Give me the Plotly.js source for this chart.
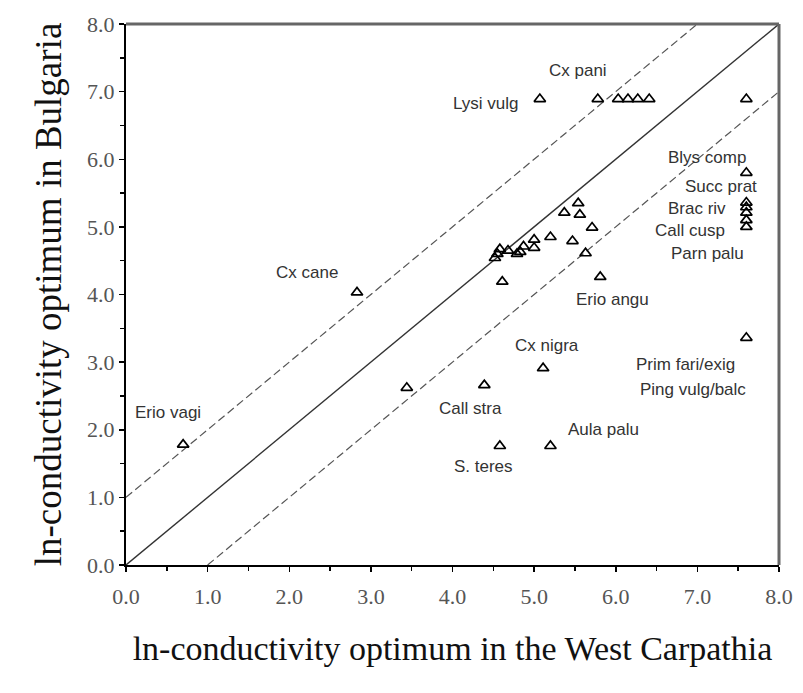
<!DOCTYPE html>
<html>
<head>
<meta charset="utf-8">
<script src="https://cdn.plot.ly/plotly-3.0.1.min.js"></script>
<style>html,body{margin:0;padding:0;background:#fff;}#chart{width:803px;height:693px;}</style>
</head>
<body>
<div id="chart"></div>
<script>
// West Carpathia optimum (x) vs Bulgaria optimum (y)
const westCarpathia = [
  0.70, 2.83, 3.44, 4.39, 5.11, 4.58, 5.20, 7.60,
  5.07, 5.78, 6.03, 6.15, 6.27, 6.41, 7.60,
  7.60, 7.60, 7.60, 7.60, 7.60, 7.60,
  5.37, 5.54, 5.56, 5.71, 5.20, 5.47, 5.63, 5.81, 4.61,
  5.00, 5.00, 4.87, 4.83, 4.79, 4.68, 4.58, 4.52, 4.55
];
const bulgaria = [
  1.78, 4.03, 2.62, 2.66, 2.91, 1.76, 1.76, 3.36,
  6.89, 6.89, 6.89, 6.89, 6.89, 6.89, 6.89,
  5.80, 5.36, 5.29, 5.21, 5.10, 5.00,
  5.21, 5.35, 5.18, 4.99, 4.85, 4.79, 4.61, 4.26, 4.19,
  4.81, 4.69, 4.71, 4.63, 4.60, 4.65, 4.67, 4.54, 4.60
];
const speciesLabels = ["Cx pani","Lysi vulg","Blys comp","Succ prat","Brac riv","Call cusp","Parn palu",
  "Erio angu","Cx cane","Cx nigra","Prim fari/exig","Ping vulg/balc","Call stra","Aula palu","S. teres","Erio vagi"];
const labelX = [5.54, 4.41, 7.12, 7.29, 7.00, 6.91, 7.13, 5.96, 2.22, 5.16, 6.86, 6.95, 4.22, 5.85, 4.38, 0.51];
const labelY = [7.31, 6.82, 6.02, 5.60, 5.27, 4.94, 4.61, 3.93, 4.32, 3.25, 2.97, 2.60, 2.32, 2.00, 1.45, 2.26];
const tickVals = [0,1,2,3,4,5,6,7,8];
const tickText = ["0.0","1.0","2.0","3.0","4.0","5.0","6.0","7.0","8.0"];

const lineCol = '#333';
const traces = [
  {x:[0,8], y:[0,8], mode:'lines', line:{color:lineCol, width:1.4}, hoverinfo:'skip'},
  {x:[0,7], y:[1,8], mode:'lines', line:{color:'#555', width:1.2, dash:'8px,4px'}, hoverinfo:'skip'},
  {x:[1,8], y:[0,7], mode:'lines', line:{color:'#555', width:1.2, dash:'8px,4px'}, hoverinfo:'skip'},
  {x:westCarpathia, y:bulgaria, mode:'markers',
   marker:{symbol:'triangle-up-open', size:10, color:'#000', line:{width:1.7, color:'#000'}}}
];

const annotations = speciesLabels.map((t,i)=>({
  x:labelX[i], y:labelY[i], text:t, showarrow:false, xanchor:'center', yanchor:'middle',
  font:{family:'Liberation Sans, Arial, sans-serif', size:17, color:'#333'}, borderpad:0
}));

const axisCommon = {
  range:[0,8], tickvals:tickVals, ticktext:tickText, ticks:'outside', ticklen:5, tickwidth:1.5,
  tickcolor:'#000', showline:true, linecolor:'#000', linewidth:2, showgrid:false, zeroline:false,
  tickfont:{family:'Liberation Serif, Times New Roman, serif', size:22, color:'#555'},
  minor:{dtick:0.5, ticks:'outside', ticklen:4, tickwidth:1.5, tickcolor:'#000', showgrid:false},
  fixedrange:true
};

const layout = {
  width:803, height:693,
  margin:{l:126, r:24, t:24, b:128},
  showlegend:false,
  paper_bgcolor:'#fff', plot_bgcolor:'#fff',
  xaxis:Object.assign({}, axisCommon, {
    ticklabelstandoff:6,
    title:{text:'ln-conductivity optimum in the West Carpathia', standoff:28,
      font:{family:'Liberation Serif, Times New Roman, serif', size:34, color:'#111'}}
  }),
  yaxis:Object.assign({}, axisCommon, {
    title:{text:'ln-conductivity optimum in Bulgaria', standoff:14,
      font:{family:'Liberation Serif, Times New Roman, serif', size:37, color:'#111'}}
  }),
  annotations:annotations,
  shapes:[
    {type:'line', xref:'paper', yref:'paper', x0:0, x1:1, y0:1, y1:1, line:{color:'#666', width:3}},
    {type:'line', xref:'paper', yref:'paper', x0:1, x1:1, y0:0, y1:1, line:{color:'#666', width:3}}
  ]
};

Plotly.newPlot('chart', traces, layout, {staticPlot:true, displayModeBar:false});
</script>
</body>
</html>
